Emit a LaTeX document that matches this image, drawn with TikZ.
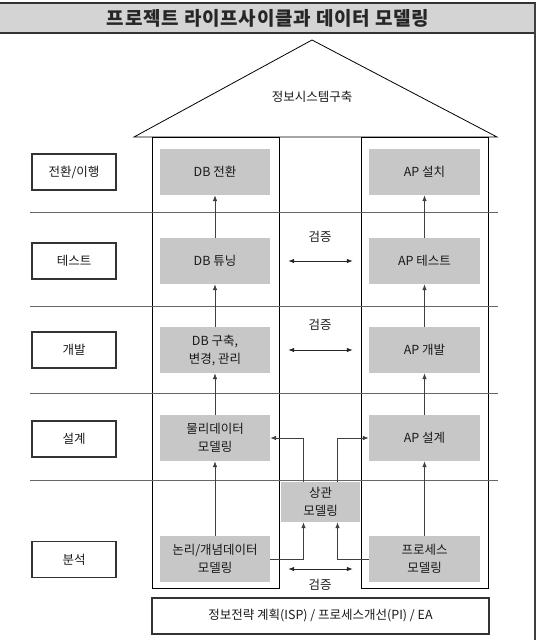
\documentclass[tikz,border=0pt]{standalone}
\usepackage{fontspec}
\setmainfont{Noto Sans CJK KR}
\usetikzlibrary{arrows.meta}

\begin{document}
\begin{tikzpicture}[x=1pt, y=-1pt,
    stage/.style={draw=black!80, line width=1.6pt, minimum width=84pt, minimum height=36pt,
      inner sep=0pt, text=black!90, font=\fontsize{12.5}{14}\selectfont},
    task/.style={fill=black!22, minimum width=110pt, minimum height=46pt, inner sep=0pt,
      align=center, text=black!90, font=\fontsize{12.5}{18}\selectfont},
    flow/.style={-{Latex[length=6pt,width=4.5pt]}, black!75, line width=0.7pt},
    check/.style={{Latex[length=6pt,width=4.5pt]}-{Latex[length=6pt,width=4.5pt]}, black!85, line width=0.8pt}]
      \useasboundingbox (0,0) rectangle (537,640);

      % title bar and frame
      \draw[fill=black!17, line width=1.2pt, draw=black!80] (-2,3) rectangle (535,33);
      \node[font=\bfseries\fontsize{19}{20}\selectfont\addfontfeature{LetterSpace=4}, text=black!85] (title) at (268,18) {프로젝트 라이프사이클과 데이터 모델링};
      \draw[line width=1.5pt, black!75] (535,3) -- (535,642);

      % house
      \draw[line width=0.8pt] (134,137) -- (312,40) -- (497,137) -- cycle;
      \node[font=\fontsize{12.5}{14}\selectfont, text=black!90] (roof) at (312,97) {정보시스템구축};
      \draw[line width=0.9pt] (152,137) rectangle (279,588);
      \draw[line width=0.9pt] (361,137) rectangle (488,588);
      \foreach \y in {212,306,393,480} {
        \draw[black!60, line width=0.8pt] (30,\y) -- (498,\y);
      }

      \foreach \y/\t/\n in {172/{전환/이행}/1, 261/테스트/2, 350/개발/3, 439/설계/4, 559.5/분석/5} {
        \node[stage] (st\n) at (74,\y) {\t};
      }

      \foreach \y/\t/\n in {172/DB 전환/1, 261/DB 튜닝/2, 350/{DB 구축,\\변경, 관리}/3,
                            438/{물리데이터\\모델링}/4, 559/{논리/개념데이터\\모델링}/5} {
        \node[task] (db\n) at (215,\y) {\t};
      }
      \foreach \y/\t/\n in {172/AP 설치/1, 261/AP 테스트/2, 350/AP 개발/3,
                            438/AP 설계/4, 559/{프로세스\\모델링}/5} {
        \node[task, minimum width=111pt] (ap\n) at (424.5,\y) {\t};
      }
      \node[task, minimum width=79pt, minimum height=40pt] (sm) at (320.5,502) {상관\\모델링};

      \foreach \a/\b in {5/4,4/3,3/2,2/1} {
        \draw[flow] (db\a) -- (db\b);
        \draw[flow] (ap\a) -- (ap\b);
      }

      \draw[flow] (db5.east) -| ([xshift=-17pt]sm.south);
      \draw[flow] (ap5.west) -| ([xshift=17pt]sm.south);
      \draw[flow] ([xshift=-17pt]sm.north) |- (db4.east);
      \draw[flow] ([xshift=17pt]sm.north) |- (ap4.west);

      \draw[check, shorten <=18pt, shorten >=16pt] (db2) -- (ap2);
      \draw[check, shorten <=18pt, shorten >=16pt] (db3) -- (ap3);
      \draw[check, shorten <=18pt, shorten >=16pt] ([yshift=-10pt]db5.east) -- ([yshift=-10pt]ap5.west);
      \foreach \y/\n in {237/1, 325/2, 585/3} {
        \node[font=\fontsize{12.5}{14}\selectfont, text=black!90] (chk\n) at (320,\y) {검증};
      }

      \node[draw=black!80, line width=1.4pt, minimum width=337pt, minimum height=36pt,
            text=black!90, font=\fontsize{12.5}{14}\selectfont] (base) at (320.5,616)
        {정보전략 계획(ISP) / 프로세스개선(PI) / EA};
    \end{tikzpicture}
\end{document}
